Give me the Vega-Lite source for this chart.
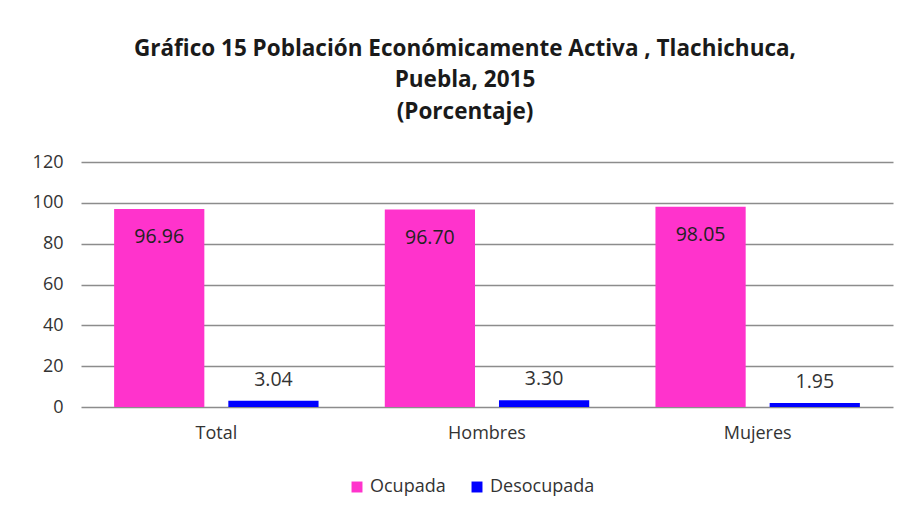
{
  "$schema": "https://vega.github.io/schema/vega-lite/v6.json",
  "autosize": {"type": "none"},
  "width": 812,
  "height": 245,
  "padding": {"left": 81, "top": 162, "right": 18, "bottom": 116},
  "background": "white",
  "title": {
    "text": ["Gráfico 15 Población Económicamente Activa , Tlachichuca,", "Puebla, 2015", "(Porcentaje)"],
    "font": "Open Sans",
    "fontSize": 22.5,
    "fontWeight": "bold",
    "color": "#1a1a1a",
    "lineHeight": 31.5,
    "anchor": "middle",
    "dx": -22,
    "offset": 30
  },
  "data": {
    "values": [
      {"grupo": "Total", "serie": "Ocupada", "valor": 96.96},
      {"grupo": "Total", "serie": "Desocupada", "valor": 3.04},
      {"grupo": "Hombres", "serie": "Ocupada", "valor": 96.70},
      {"grupo": "Hombres", "serie": "Desocupada", "valor": 3.30},
      {"grupo": "Mujeres", "serie": "Ocupada", "valor": 98.05},
      {"grupo": "Mujeres", "serie": "Desocupada", "valor": 1.95}
    ]
  },
  "encoding": {
    "x": {
      "field": "grupo",
      "type": "nominal",
      "sort": ["Total", "Hombres", "Mujeres"],
      "scale": {"paddingInner": 0, "paddingOuter": 0},
      "axis": {
        "title": null,
        "labelAngle": 0,
        "domain": false,
        "ticks": false,
        "labelPadding": 17,
        "labelFont": "Open Sans",
        "labelFontSize": 18,
        "labelColor": "#333333"
      }
    },
    "xOffset": {
      "field": "serie",
      "sort": ["Ocupada", "Desocupada"],
      "scale": {"paddingInner": 0.21, "paddingOuter": 0.29}
    },
    "y": {
      "field": "valor",
      "type": "quantitative",
      "scale": {"domain": [0, 120]},
      "axis": {
        "title": null,
        "values": [0, 20, 40, 60, 80, 100, 120],
        "domain": false,
        "ticks": false,
        "labelPadding": 18,
        "labelFont": "Open Sans",
        "labelFontSize": 18,
        "labelColor": "#333333",
        "gridColor": "#8c8c8c",
        "gridWidth": 1.5
      }
    }
  },
  "layer": [
    {
      "mark": {"type": "bar"},
      "encoding": {
        "color": {
          "field": "serie",
          "type": "nominal",
          "sort": ["Ocupada", "Desocupada"],
          "scale": {"domain": ["Ocupada", "Desocupada"], "range": ["#FF33CC", "#0000FF"]},
          "legend": {
            "title": null,
            "orient": "none",
            "direction": "horizontal",
            "legendX": 267,
            "legendY": 316,
            "symbolType": "square",
            "symbolSize": 120,
            "symbolStrokeWidth": 0,
            "labelFont": "Open Sans",
            "labelFontSize": 18,
            "labelColor": "#333333",
            "columnPadding": 22,
            "labelOffset": 4
          }
        }
      }
    },
    {
      "transform": [{"filter": "datum.serie == 'Ocupada'"}],
      "mark": {"type": "text", "baseline": "middle", "dy": 28, "font": "Open Sans", "fontSize": 19.5, "color": "#222222"},
      "encoding": {"text": {"field": "valor", "type": "quantitative", "format": ".2f"}}
    },
    {
      "transform": [{"filter": "datum.serie == 'Desocupada'"}],
      "mark": {"type": "text", "baseline": "middle", "dy": -21, "font": "Open Sans", "fontSize": 19.5, "color": "#333333"},
      "encoding": {"text": {"field": "valor", "type": "quantitative", "format": ".2f"}}
    }
  ],
  "config": {"view": {"stroke": null}}
}
